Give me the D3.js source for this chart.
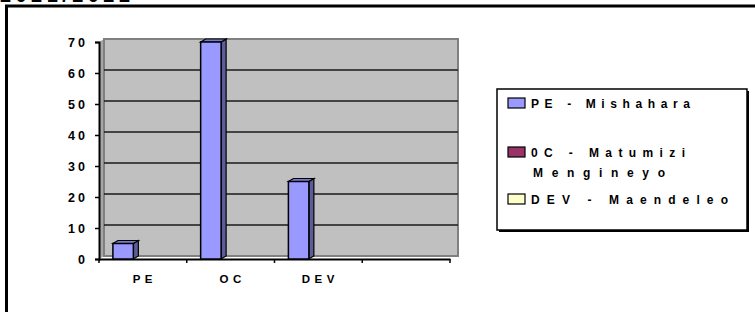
<!DOCTYPE html>
<html lang="en">
<head>
    <meta charset="UTF-8">
    <script src="https://cdnjs.cloudflare.com/ajax/libs/d3/7.8.5/d3.min.js"></script>
    <style>
        body { margin: 0; background: #fff; }
        svg text { font-family: "Liberation Sans", "DejaVu Sans", sans-serif; font-weight: bold; fill: #000; }
    </style>
</head>
<body>
    <svg id="chart" width="755" height="312"></svg>
    <script>
        // chart data
        let categories = ["PE", "OC", "DEV", ""];
        let seriesNames = ["PE - Mishahara", "0C - Matumizi Mengineyo", "DEV - Maendeleo"];
        let seriesColors = ["#9999ff", "#993366", "#ffffcc"];
        let seriesValues = [
            [5, 70, 25, null],
            [null, null, null, null],
            [null, null, null, null]
        ];
        let yTicks = [0, 10, 20, 30, 40, 50, 60, 70];
        let title = "2021/2022";

        let svg = d3.select("#chart");
        let dx = 5, dy = -3;

        // outer frame + title (cut by the top edge)
        svg.append("text").attr("x", 0).attr("y", 2)
            .attr("textLength", 130).attr("lengthAdjust", "spacing")
            .style("font-size", "20px")
            .text(title);
        svg.append("line").attr("x1", 5).attr("x2", 755).attr("y1", 6).attr("y2", 6)
            .attr("stroke", "#000").attr("stroke-width", 3);
        svg.append("line").attr("x1", 6.5).attr("x2", 6.5).attr("y1", 5).attr("y2", 312)
            .attr("stroke", "#000").attr("stroke-width", 3);

        let xScale = d3.scaleBand().domain(categories).range([99, 450]);
        let yScale = d3.scaleLinear().domain([0, 70]).range([259, 42]);
        let sScale = d3.scaleBand().domain(d3.range(seriesNames.length)).range([13, 81]).padding(0.04);

        // walls
        svg.append("polygon")
            .attr("points", [[99, yScale(70)], [99 + dx, yScale(70) + dy], [99 + dx, yScale(0) + dy], [99, yScale(0)]].join(" "))
            .attr("fill", "#a6a6a6");
        svg.append("rect")
            .attr("x", 99 + dx).attr("y", yScale(70) + dy)
            .attr("width", 458 - 99 - dx).attr("height", yScale(0) - yScale(70))
            .attr("fill", "#c0c0c0").attr("stroke", "#808080").attr("stroke-width", 2);

        // gridlines on the back wall
        svg.append("g").selectAll("line")
            .data(yTicks.filter(d => d > 0 && d < 70))
            .enter().append("line")
            .attr("x1", 99 + dx).attr("x2", 458)
            .attr("y1", d => yScale(d) + dy).attr("y2", d => yScale(d) + dy)
            .attr("stroke", "#1a1a1a").attr("stroke-width", 1.5);

        // y axis
        let yAxis = d3.axisLeft(yScale).tickValues(yTicks).tickSize(4).tickPadding(6);
        let yG = svg.append("g").attr("transform", "translate(99,0)").call(yAxis);
        yG.select(".domain").attr("stroke", "#000").attr("stroke-width", 2);
        yG.selectAll(".tick line").attr("stroke", "#000").attr("stroke-width", 1.5);
        yG.selectAll(".tick text").style("font-size", "12.5px").style("letter-spacing", "3px")
            .attr("font-family", null).attr("x", -11);

        // x axis
        let xAxis = d3.axisBottom(xScale).tickSize(0).tickPadding(0);
        let xG = svg.append("g").attr("transform", "translate(0," + yScale(0) + ")").call(xAxis);
        xG.select(".domain").attr("stroke", "#000").attr("stroke-width", 2);
        xG.selectAll(".tick text").style("font-size", "11.5px").style("letter-spacing", "4.5px")
            .attr("font-family", null).attr("dy", null).attr("y", 24).attr("dx", "2px");
        xG.append("g").selectAll("line")
            .data(categories.map(c => xScale(c)).concat([450]))
            .enter().append("line")
            .attr("x1", d => d).attr("x2", d => d).attr("y1", 0).attr("y2", 4)
            .attr("stroke", "#000").attr("stroke-width", 1.5);

        // 3D bars
        let bars = [];
        seriesValues.forEach((vals, s) => {
            vals.forEach((v, i) => {
                if (v != null) bars.push({ s: s, cat: categories[i], v: v });
            });
        });
        let barG = svg.append("g").selectAll("g").data(bars).enter().append("g");
        let bx = d => xScale(d.cat) + sScale(d.s);
        let bw = sScale.bandwidth() - 1;
        barG.append("polygon")
            .attr("points", d => [[bx(d) + bw, yScale(d.v)], [bx(d) + bw + dx, yScale(d.v) + dy],
                [bx(d) + bw + dx, yScale(0) + dy], [bx(d) + bw, yScale(0)]].join(" "))
            .attr("fill", "#5c5c99").attr("stroke", "#000").attr("stroke-width", 1.2);
        barG.append("polygon")
            .attr("points", d => [[bx(d), yScale(d.v)], [bx(d) + dx, yScale(d.v) + dy],
                [bx(d) + bw + dx, yScale(d.v) + dy], [bx(d) + bw, yScale(d.v)]].join(" "))
            .attr("fill", "#7a7acc").attr("stroke", "#000").attr("stroke-width", 1.2);
        barG.append("rect")
            .attr("x", d => bx(d)).attr("y", d => yScale(d.v))
            .attr("width", bw).attr("height", d => yScale(0) - yScale(d.v))
            .attr("fill", d => seriesColors[d.s]).attr("stroke", "#000").attr("stroke-width", 1.5);

        // legend
        svg.append("rect").attr("x", 499).attr("y", 91).attr("width", 250).attr("height", 141)
            .attr("fill", "#000");
        svg.append("rect").attr("x", 497).attr("y", 89).attr("width", 250).attr("height", 141)
            .attr("fill", "#fff").attr("stroke", "#000").attr("stroke-width", 1.5);
        let legendLines = [["PE - Mishahara"], ["0C - Matumizi", "Mengineyo"], ["DEV - Maendeleo"]];
        let legendTop = [98, 147, 194];
        let legendLen = [[159], [154, 132], [197]];
        let lg = svg.append("g").selectAll("g").data(seriesNames).enter().append("g");
        lg.append("rect")
            .attr("x", 508).attr("y", (d, i) => legendTop[i])
            .attr("width", 17).attr("height", 10)
            .attr("fill", (d, i) => seriesColors[i]).attr("stroke", "#000").attr("stroke-width", 1.2);
        lg.each(function (d, i) {
            legendLines[i].forEach((t, j) => {
                d3.select(this).append("text")
                    .attr("x", j === 0 ? 531 : 533).attr("y", legendTop[i] + 10 + j * 20)
                    .attr("textLength", legendLen[i][j]).attr("lengthAdjust", "spacing")
                    .style("font-size", "12px")
                    .text(t);
            });
        });
    </script>
</body>
</html>
